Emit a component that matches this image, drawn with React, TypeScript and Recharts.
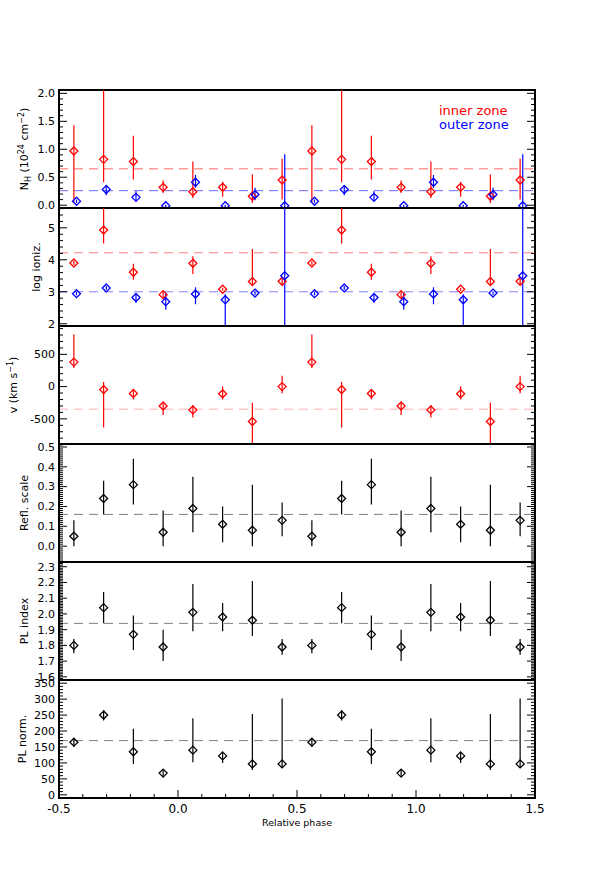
import React from "react";
import { ScatterChart, Scatter, XAxis, YAxis, ErrorBar, ReferenceLine, ReferenceArea, Legend } from "recharts";

// phase bin centres, light curve folded and drawn twice
const phaseBins = [-0.4375, -0.3125, -0.1875, -0.0625, 0.0625, 0.1875, 0.3125, 0.4375];
const cycles = [0, 1];
const outerShift = 0.011; // outer zone points are nudged right so they don't overlap

// N_H (10^24 cm^-2)
const nhInner = [0.97, 0.82, 0.78, 0.32, 0.24, 0.32, 0.16, 0.45];
const nhInnerLo = [0.05, 0.41, 0.46, 0.22, 0.13, 0.15, 0.04, 0.1];
const nhInnerHi = [1.43, 2.3, 1.24, 0.44, 0.78, 0.42, 0.55, 0.83];
const nhOuter = [0.07, 0.28, 0.14, -0.01, 0.41, -0.01, 0.19, -0.01];
const nhOuterLo = [0.04, 0.18, 0.08, -0.03, 0.31, -0.03, 0.09, -0.3];
const nhOuterHi = [0.1, 0.36, 0.25, 0.01, 0.54, 0.01, 0.31, 0.91];
const nhInnerMean = 0.65;
const nhOuterMean = 0.26;

// log ionization
const xiInner = [3.9, 4.93, 3.61, 2.91, 3.89, 3.08, 3.32, 3.33];
const xiInnerLo = [3.84, 4.51, 3.38, 2.8, 3.56, 3.03, 3.22, 3.22];
const xiInnerHi = [3.96, 6.0, 3.88, 3.02, 4.11, 3.12, 4.34, 3.46];
const xiOuter = [2.94, 3.12, 2.82, 2.69, 2.93, 2.75, 2.96, 3.5];
const xiOuterLo = [2.89, 3.06, 2.66, 2.44, 2.61, 1.5, 2.91, 1.5];
const xiOuterHi = [2.99, 3.18, 2.92, 2.97, 3.14, 2.92, 3.01, 6.0];
const xiInnerMean = 4.22;
const xiOuterMean = 3.0;

// outflow velocity (km/s)
const vel = [380, -46, -107, -301, -362, -112, -541, 0];
const velLo = [290, -633, -199, -439, -480, -199, -1200, -102];
const velHi = [810, 71, -46, -250, -286, 0, -250, 168];
const velMean = -350;

// reflection scale
const refl = [0.05, 0.24, 0.31, 0.07, 0.19, 0.11, 0.08, 0.13];
const reflLo = [0.0, 0.16, 0.21, 0.0, 0.07, 0.02, 0.0, 0.05];
const reflHi = [0.13, 0.33, 0.44, 0.18, 0.35, 0.2, 0.31, 0.22];
const reflMean = 0.16;

// power law index
const plIndex = [1.8, 2.04, 1.87, 1.79, 2.01, 1.98, 1.96, 1.79];
const plIndexLo = [1.75, 1.94, 1.77, 1.7, 1.89, 1.89, 1.86, 1.74];
const plIndexHi = [1.84, 2.14, 1.99, 1.9, 2.19, 2.07, 2.21, 1.84];
const plIndexMean = 1.94;

// power law normalisation
const plNorm = [165, 250, 135, 68, 140, 122, 97, 97];
const plNormLo = [150, 233, 97, 58, 102, 100, 78, 84];
const plNormHi = [177, 266, 207, 80, 240, 131, 253, 302];
const plNormMean = 170;

const xMajor = [-0.5, 0, 0.5, 1, 1.5];

const FONT = "'DejaVu Sans', sans-serif";
const W = 590;
const PLOT_LEFT = 59;
const PLOT_RIGHT = 535;
const PANEL_TOP = 90;
const PANEL_H = 118;
const PAD = 14;
const RED = "#ff0000";
const BLUE = "#0000ff";
const BLACK = "#000000";

const buildRows = (val: number[], lo: number[], hi: number[], shift = 0) =>
  cycles.flatMap((c) =>
    phaseBins.map((p, i) => ({ x: p + c + shift, y: val[i], lo: lo[i], hi: hi[i] }))
  );

const stepTicks = (from: number, to: number, step: number) => {
  const out: number[] = [];
  const start = Math.ceil(from / step - 1e-9);
  for (let k = start; k * step <= to + 1e-9; k++) out.push(+(k * step).toFixed(6));
  return out;
};

const xTicks = stepTicks(-0.5, 1.5, 0.1);

const isMajor = (v: number, majors: number[], step: number) => majors.some((m) => Math.abs(m - v) < step / 100);

const diamond = (color: string) => (props: any) => {
  const { cx, cy } = props;
  if (cx == null || cy == null) return <g />;
  const r = 4;
  return (
    <path
      d={`M${cx},${cy - r}L${cx + r},${cy}L${cx},${cy + r}L${cx - r},${cy}Z`}
      fill="none"
      stroke={color}
      strokeWidth={1.3}
    />
  );
};

const xTick = (side: "top" | "bottom", showLabel: boolean) => (props: any) => {
  const { x, y, payload } = props;
  const v = payload.value;
  const major = isMajor(v, xMajor, 0.1);
  const len = major ? 8 : 4;
  const dir = side === "bottom" ? -1 : 1;
  return (
    <g>
      <line x1={x} y1={y} x2={x} y2={y + dir * len} stroke="#000" strokeWidth={1} />
      {showLabel && major && (
        <text x={x} y={y + 11} dy="0.35em" textAnchor="middle" fontSize={12} fontFamily={FONT} fill="#000">
          {v.toFixed(1)}
        </text>
      )}
    </g>
  );
};

const yTick = (side: "left" | "right", majors: number[], step: number, fmt: (v: number) => string) => (props: any) => {
  const { x, y, payload } = props;
  const v = payload.value;
  const major = isMajor(v, majors, step);
  const len = major ? 8 : 4;
  const dir = side === "left" ? 1 : -1;
  return (
    <g>
      <line x1={x} y1={y} x2={x + dir * len} y2={y} stroke="#000" strokeWidth={1} />
      {side === "left" && major && (
        <text x={x - 4} y={y} dy="0.35em" textAnchor="end" fontSize={11} fontFamily={FONT} fill="#000">
          {fmt(v)}
        </text>
      )}
    </g>
  );
};

type Series = { name: string; color: string; rows: any[] };
type PanelDef = {
  title: React.ReactNode;
  titleX: number;
  domain: [number, number];
  major: number[];
  minorStep: number;
  fmt: (v: number) => string;
  series: Series[];
  means: { y: number; color: string }[];
  legend?: boolean;
};

const f1 = (v: number) => v.toFixed(1);
const f0 = (v: number) => v.toFixed(0);

const panels: PanelDef[] = [
  {
    title: (
      <>
        N<tspan dy={3} fontSize={8}>H</tspan>
        <tspan dy={-3}> (10</tspan>
        <tspan dy={-4} fontSize={8}>24</tspan>
        <tspan dy={4}> cm</tspan>
        <tspan dy={-4} fontSize={8}>−2</tspan>
        <tspan dy={4}>)</tspan>
      </>
    ),
    titleX: 24,
    domain: [-0.05, 2.06],
    major: [0, 0.5, 1, 1.5, 2],
    minorStep: 0.1,
    fmt: f1,
    series: [
      { name: "inner zone", color: RED, rows: buildRows(nhInner, nhInnerLo, nhInnerHi) },
      { name: "outer zone", color: BLUE, rows: buildRows(nhOuter, nhOuterLo, nhOuterHi, outerShift) },
    ],
    means: [
      { y: nhInnerMean, color: "#ff6a6a" },
      { y: nhOuterMean, color: "#6a6aff" },
    ],
    legend: true,
  },
  {
    title: "log ioniz.",
    titleX: 36,
    domain: [1.93, 5.62],
    major: [2, 3, 4, 5],
    minorStep: 0.2,
    fmt: f0,
    series: [
      { name: "inner zone", color: RED, rows: buildRows(xiInner, xiInnerLo, xiInnerHi) },
      { name: "outer zone", color: BLUE, rows: buildRows(xiOuter, xiOuterLo, xiOuterHi, outerShift) },
    ],
    means: [
      { y: xiInnerMean, color: "#ff8080" },
      { y: xiOuterMean, color: "#8080ff" },
    ],
  },
  {
    title: (
      <>
        v (km s<tspan dy={-4} fontSize={8}>−1</tspan>
        <tspan dy={4}>)</tspan>
      </>
    ),
    titleX: 13,
    domain: [-890, 940],
    major: [-500, 0, 500],
    minorStep: 100,
    fmt: f0,
    series: [{ name: "inner zone", color: RED, rows: buildRows(vel, velLo, velHi) }],
    means: [{ y: velMean, color: "#ffb0b0" }],
  },
  {
    title: "Refl. scale",
    titleX: 24,
    domain: [-0.08, 0.515],
    major: [0, 0.1, 0.2, 0.3, 0.4, 0.5],
    minorStep: 0.01,
    fmt: f1,
    series: [{ name: "refl", color: BLACK, rows: buildRows(refl, reflLo, reflHi) }],
    means: [{ y: reflMean, color: "#808080" }],
  },
  {
    title: "PL index",
    titleX: 24,
    domain: [1.58, 2.33],
    major: [1.6, 1.7, 1.8, 1.9, 2.0, 2.1, 2.2, 2.3],
    minorStep: 0.01,
    fmt: f1,
    series: [{ name: "index", color: BLACK, rows: buildRows(plIndex, plIndexLo, plIndexHi) }],
    means: [{ y: plIndexMean, color: "#808080" }],
  },
  {
    title: "PL norm.",
    titleX: 22,
    domain: [-10, 360],
    major: [0, 50, 100, 150, 200, 250, 300, 350],
    minorStep: 10,
    fmt: f0,
    series: [{ name: "norm", color: BLACK, rows: buildRows(plNorm, plNormLo, plNormHi) }],
    means: [{ y: plNormMean, color: "#808080" }],
  },
];

const axisStyle = { stroke: "#000", strokeWidth: 2 };

function Panel({ def, index, last }: { def: PanelDef; index: number; last: boolean }) {
  const top = PANEL_TOP + index * PANEL_H - PAD;
  const axisH = last ? 44 : 0;
  const height = PANEL_H + 2 * PAD + axisH;
  const yTicks = stepTicks(def.domain[0], def.domain[1], def.minorStep);
  const [dLo, dHi] = def.domain;
  // error bars are cut at the frame, like the plot window of the original
  const clipped = (rows: any[]) =>
    rows.map((r) => ({
      ...r,
      err: [r.y - Math.max(r.lo, dLo), Math.min(r.hi, dHi) - r.y],
    }));

  return (
    <div style={{ position: "absolute", left: 0, top }}>
      <ScatterChart width={W} height={height} margin={{ top: PAD, right: 0, bottom: PAD, left: 0 }}>
        <XAxis
          xAxisId={0}
          type="number"
          dataKey="x"
          domain={[-0.5, 1.5]}
          ticks={xTicks}
          interval={0}
          allowDataOverflow
          height={axisH}
          tickSize={0}
          tickMargin={0}
          tickLine={false}
          axisLine={axisStyle}
          tick={xTick("bottom", last)}
          label={
            last
              ? {
                  content: (p: any) => (
                    <text
                      x={p.viewBox.x + p.viewBox.width / 2}
                      y={p.viewBox.y + 25}
                      dy="0.35em"
                      textAnchor="middle"
                      fontSize={9.5}
                      fontFamily={FONT}
                      fill="#000"
                    >
                      Relative phase
                    </text>
                  ),
                }
              : undefined
          }
        />
        <XAxis
          xAxisId="top"
          orientation="top"
          type="number"
          dataKey="x"
          domain={[-0.5, 1.5]}
          ticks={xTicks}
          interval={0}
          allowDataOverflow
          height={0}
          tickSize={0}
          tickMargin={0}
          tickLine={false}
          axisLine={axisStyle}
          tick={xTick("top", false)}
        />
        <YAxis
          yAxisId={0}
          type="number"
          dataKey="y"
          domain={def.domain}
          ticks={yTicks}
          interval={0}
          allowDataOverflow
          width={PLOT_LEFT}
          tickSize={0}
          tickMargin={0}
          tickLine={false}
          axisLine={axisStyle}
          tick={yTick("left", def.major, def.minorStep, def.fmt)}
          label={{
            content: (p: any) => {
              const cy = p.viewBox.y + p.viewBox.height / 2;
              return (
                <text
                  x={def.titleX}
                  y={cy}
                  transform={`rotate(-90, ${def.titleX}, ${cy})`}
                  dy="0.35em"
                  textAnchor="middle"
                  fontSize={11}
                  fontFamily={FONT}
                  fill="#000"
                >
                  {def.title}
                </text>
              );
            },
          }}
        />
        <YAxis
          yAxisId="right"
          orientation="right"
          type="number"
          dataKey="y"
          domain={def.domain}
          ticks={yTicks}
          interval={0}
          allowDataOverflow
          width={W - PLOT_RIGHT}
          tickSize={0}
          tickMargin={0}
          tickLine={false}
          axisLine={axisStyle}
          tick={yTick("right", def.major, def.minorStep, def.fmt)}
        />
        <ReferenceArea
          x1={-0.5}
          x2={1.5}
          y1={dLo}
          y2={dHi}
          fill="none"
          fillOpacity={0}
          stroke="#000"
          strokeWidth={2}
        />
        {def.means.map((m) => (
          <ReferenceLine key={m.color + m.y} y={m.y} stroke={m.color} strokeDasharray="9 6" strokeWidth={1} />
        ))}
        {def.series.map((s) => (
          <Scatter
            key={s.name}
            name={s.name}
            data={clipped(s.rows)}
            fill={s.color}
            shape={diamond(s.color)}
            isAnimationActive={false}
          >
            <ErrorBar dataKey="err" direction="y" width={0} stroke={s.color} strokeWidth={1.2} isAnimationActive={false} />
          </Scatter>
        ))}
        {def.legend && (
          <Legend
            layout="vertical"
            align="center"
            verticalAlign="middle"
            wrapperStyle={{ position: "absolute", left: 439, top: 28, width: 90, height: 30 }}
            content={(p: any) => (
              <div style={{ fontFamily: FONT, fontSize: 13 }}>
                {(p.payload || []).map((e: any) => (
                  <div key={e.value} style={{ color: e.color, lineHeight: "13.6px" }}>
                    {e.value}
                  </div>
                ))}
              </div>
            )}
          />
        )}
      </ScatterChart>
    </div>
  );
}

export default function App() {
  return (
    <div style={{ position: "absolute", left: 0, top: 0, width: W, height: 886, background: "#fff" }}>
      {panels.map((def, i) => (
        <Panel key={i} def={def} index={i} last={i === panels.length - 1} />
      ))}
    </div>
  );
}
